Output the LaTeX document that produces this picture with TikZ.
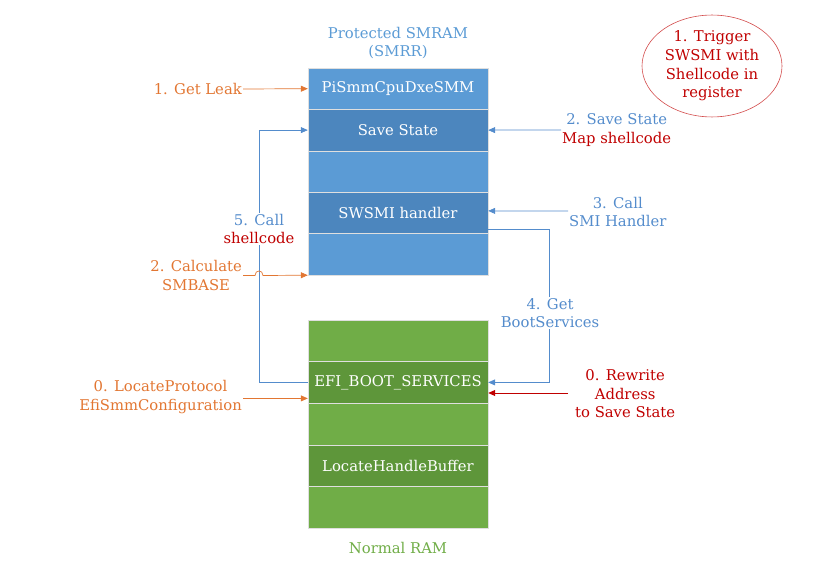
\documentclass[tikz,border=0pt]{standalone}
\usepackage{fontspec}
\setmainfont{DejaVu Serif}
\usetikzlibrary{arrows.meta, shapes.geometric}
\definecolor{smramlight}{RGB}{91,155,213}
\definecolor{smramdark}{RGB}{76,134,190}
\definecolor{ramlight}{RGB}{112,173,71}
\definecolor{ramdark}{RGB}{94,150,58}
\definecolor{flowblue}{RGB}{84,140,204}
\definecolor{leakorange}{RGB}{226,118,50}
\definecolor{shellred}{RGB}{192,0,0}

\begin{document}
\begin{tikzpicture}[x=1pt, y=-1pt,
    band/.style={draw=white!75!gray, line width=0.4pt, minimum width=180pt, inner sep=0pt, text=white, font=\fontsize{14.8}{18}\selectfont},
    smband/.style={band, minimum height=41.4pt},
    ramband/.style={band, minimum height=41.6pt},
    lbl/.style={align=center, inner sep=1pt, font=\fontsize{14.8}{18.6}\selectfont},
    tip/.style={-{Triangle[length=7pt, width=6pt]}},
    flow/.style={tip, line width=0.7pt, flowblue},
    leak/.style={tip, line width=0.7pt, leakorange},
    rewrite/.style={tip, line width=0.9pt, shellred}]
  \useasboundingbox (0,0) rectangle (838,577);
  % protected SMRAM, five bands from the top
  \node[smband, fill=smramlight] (pismm) at (398,88.7)  {PiSmmCpuDxeSMM};
  \node[smband, fill=smramdark]  (save)  at (398,130.1) {Save State};
  \node[smband, fill=smramlight] (smgap) at (398,171.5) {};
  \node[smband, fill=smramdark]  (swsmi) at (398,212.9) {SWSMI handler};
  \node[smband, fill=smramlight] (smend) at (398,254.3) {};
  \node[lbl, text=smramlight] (smtitle) at (398,43) {Protected SMRAM\\(SMRR)};
  % normal RAM, five bands from the top
  \node[ramband, fill=ramlight] (ramtop) at (398,340.8) {};
  \node[ramband, fill=ramdark]  (efi)    at (398,382.4) {EFI\_BOOT\_SERVICES};
  \node[ramband, fill=ramlight] (ramgap) at (398,424)   {};
  \node[ramband, fill=ramdark]  (locate) at (398,465.6) {LocateHandleBuffer};
  \node[ramband, fill=ramlight] (ramend) at (398,507.2) {};
  \node[lbl, text=ramlight] (ramtitle) at (398,548) {Normal RAM};
  % the trigger
  \node[ellipse, draw=shellred!70!white, line width=0.6pt, minimum width=140pt, minimum height=92pt,
        lbl, text=shellred] (trigger) at (712,66) {1. Trigger\\SWSMI with\\Shellcode in\\register};
  % left side labels
  \node[lbl, text=leakorange, anchor=east] (getleak) at (243,89) {1. Get Leak};
  \node[lbl, text=leakorange, anchor=east] (calc) at (243,275.5) {2. Calculate\\SMBASE};
  \node[lbl, text=leakorange, anchor=east] (locproto) at (243,397) {0. LocateProtocol\\EfiSmmConfiguration};
  % right side labels
  \node[lbl, text=flowblue, anchor=west] (savelbl) at (561,130) {2. Save State\\\textcolor{shellred}{Map shellcode}};
  \node[lbl, text=flowblue, anchor=west] (smilbl) at (568,212) {3. Call\\SMI Handler};
  \node[lbl, text=shellred, anchor=west] (rewlbl) at (574,394) {0. Rewrite\\Address\\to Save State};
  % call shellcode: from the boot services back up to the save state
  \coordinate (up) at (259,382.4);
  \coordinate (hop) at (259,275.5);
  \draw[flow] (efi.west) -- (up) |- (save.west);
  \node[lbl, fill=white, text=flowblue] (calllbl) at (259,229) {5. Call\\\textcolor{shellred}{shellcode}};
  % get boot services: from the handler down to the boot services
  \coordinate (down) at (549,382.4);
  \draw[flow] ([yshift=-16pt]swsmi.east) -| (down) -- (efi.east);
  \node[lbl, fill=white, text=flowblue] (bootlbl) at (550,313) {4. Get\\BootServices};
  % arrows into the blocks
  \draw[leak] (getleak.east) -- (pismm.west);
  \draw[leak] (calc.east) -- ([xshift=-4pt]hop) .. controls +(0,-6) and +(0,-6) .. ([xshift=4pt]hop) -- (smend.south west);
  \draw[leak] (locproto.east |- 0,398.4) -- ([yshift=-16pt]efi.west);
  \draw[flow] (savelbl.west) -- (save.east);
  \draw[flow] (smilbl.west |- 0,211) -- ([yshift=2pt]swsmi.east);
  \coordinate (rw) at (568,393);
  \draw[rewrite] (rw) -- ([yshift=-10.6pt]efi.east);
\end{tikzpicture}
\end{document}
